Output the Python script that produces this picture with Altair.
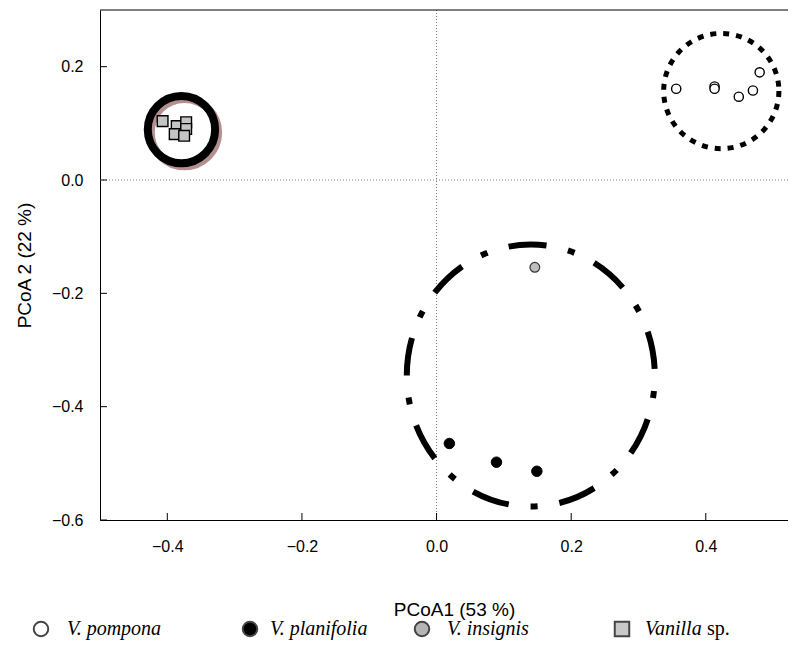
import altair as alt
import pandas as pd

# ---------------- data ----------------
pompona_x = [0.356, 0.413, 0.413, 0.449, 0.470, 0.480]
pompona_y = [0.161, 0.165, 0.161, 0.147, 0.158, 0.190]
planifolia_x = [0.019, 0.089, 0.149]
planifolia_y = [-0.465, -0.498, -0.514]
insignis_x = [0.146]
insignis_y = [-0.154]
vsp_x = [-0.407, -0.386, -0.372, -0.372, -0.389, -0.375]
vsp_y = [0.104, 0.095, 0.102, 0.090, 0.081, 0.078]

# group ellipses (centres)
ring_names = ["Vanilla sp.", "V. pompona", "V. planifolia + V. insignis"]
ring_x = [-0.379, 0.423, 0.140]
ring_y = [0.089, 0.157, -0.345]

x_ticks = [-0.4, -0.2, 0.0, 0.2, 0.4]
y_ticks = [-0.6, -0.4, -0.2, 0.0, 0.2]

legend_labels = ["V. pompona", "V. planifolia", "V. insignis", "Vanilla"]
legend_suffix = "sp."
legend_shapes = ["circle", "circle", "circle", "square"]
legend_fills = ["white", "black", "#b5b5b5", "#c8c8c8"]

# ---------------- layout ----------------
W, H = 688, 510
XDOM = [-0.5, 0.5221]
YDOM = [-0.6, 0.3]
xs = alt.Scale(domain=XDOM, nice=False, zero=False)
ys = alt.Scale(domain=YDOM, nice=False, zero=False)

def pts(xv, yv):
    return pd.DataFrame({"x": xv, "y": yv})

x_axis = alt.Axis(
    title="PCoA1 (53 %)", values=x_ticks, format=".1f", ticks=False,
    labelPadding=18, titlePadding=46, titleX=354, grid=False, domainColor="black",
    labelFontSize=16, titleFontSize=19, labelFont="Liberation Sans",
    titleFont="Liberation Sans", titleFontWeight="normal", labelColor="black",
    titleColor="black")
y_axis = alt.Axis(
    title="PCoA 2 (22 %)", values=y_ticks, format=".1f", ticks=False,
    labelPadding=17, titlePadding=17, grid=False, domainColor="black",
    labelFontSize=16, titleFontSize=19, labelFont="Liberation Sans",
    titleFont="Liberation Sans", titleFontWeight="normal", labelColor="black",
    titleColor="black")
X = alt.X("x:Q", scale=xs, axis=x_axis)
Y = alt.Y("y:Q", scale=ys, axis=y_axis)

# zero reference lines
zero_v = alt.Chart(pd.DataFrame({"x": [0.0]})).mark_rule(
    color="#777777", strokeWidth=1, strokeDash=[1, 2]).encode(x=X)
zero_h = alt.Chart(pd.DataFrame({"y": [0.0]})).mark_rule(
    color="#777777", strokeWidth=1, strokeDash=[1, 2]).encode(y=Y)

# top frame line
top_line = alt.Chart(pd.DataFrame({"a": [0]})).mark_rule(
    color="black", strokeWidth=1).encode(
    x=alt.value(0), x2=alt.value(W), y=alt.value(0))

# inward ticks
xt = alt.Chart(pd.DataFrame({"x": x_ticks})).mark_rule(
    color="black", strokeWidth=1).encode(
    x=X, y=alt.value(H), y2=alt.value(H - 7))
yt = alt.Chart(pd.DataFrame({"y": y_ticks})).mark_rule(
    color="black", strokeWidth=1).encode(
    y=Y, x=alt.value(0), x2=alt.value(7))

# group rings
ring_sp = pts([ring_x[0]], [ring_y[0]])
ring_pom = pts([ring_x[1]], [ring_y[1]])
ring_pla = pts([ring_x[2]], [ring_y[2]])

shadow = alt.Chart(ring_sp).mark_point(
    shape="circle", size=4536, filled=False, stroke="#b38f8f",
    strokeWidth=8, opacity=1).encode(
    x=X, y=Y, xOffset=alt.value(3), yOffset=alt.value(3))
ring1 = alt.Chart(ring_sp).mark_point(
    shape="circle", size=4536, filled=False, stroke="black",
    strokeWidth=8, opacity=1).encode(x=X, y=Y)
ring2 = alt.Chart(ring_pom).mark_point(
    shape="circle", size=13273, filled=False, stroke="black",
    strokeWidth=5, strokeDash=[6, 7], strokeCap="butt", opacity=1).encode(x=X, y=Y)
ellipse_path = "M -0.9466 0 A 0.9466 1 0 1 1 0.9466 0 A 0.9466 1 0 1 1 -0.9466 0 Z"
ring3 = alt.Chart(ring_pla).mark_point(
    shape=ellipse_path, size=68644, filled=False, stroke="black",
    strokeWidth=6, strokeDash=[38, 22, 7, 22], strokeCap="butt", opacity=1).encode(x=X, y=Y)

# samples
p_pom = alt.Chart(pts(pompona_x, pompona_y)).mark_point(
    shape="circle", size=85, filled=True, fill="white", stroke="black",
    strokeWidth=1.4, opacity=1).encode(x=X, y=Y)
p_pla = alt.Chart(pts(planifolia_x, planifolia_y)).mark_point(
    shape="circle", size=110, filled=True, fill="black", stroke="black",
    strokeWidth=1, opacity=1).encode(x=X, y=Y)
p_ins = alt.Chart(pts(insignis_x, insignis_y)).mark_point(
    shape="circle", size=95, filled=True, fill="#bdbdbd", stroke="#333333",
    strokeWidth=1.2, opacity=1).encode(x=X, y=Y)
p_sp = alt.Chart(pts(vsp_x, vsp_y)).mark_point(
    shape="square", size=115, filled=True, fill="#c4c4c4", stroke="black",
    strokeWidth=1.4, opacity=1).encode(x=X, y=Y)

# ---------------- manual legend ----------------
leg_sym_px = [-59, 150, 322, 522]
leg_txt_px = [-33, 170, 347, 545]
leg_y = 619
leg = pd.DataFrame({
    "label": legend_labels, "shape": legend_shapes, "fill": legend_fills,
    "sx": leg_sym_px, "tx": leg_txt_px,
})
leg_sym = alt.Chart(leg).mark_point(
    filled=True, size=210, stroke="#444444", strokeWidth=2, opacity=1).encode(
    x=alt.X("sx:Q", scale=None), y=alt.value(leg_y),
    shape=alt.Shape("shape:N", scale=None),
    fill=alt.Fill("fill:N", scale=None))
leg_txt = alt.Chart(leg).mark_text(
    align="left", baseline="middle", font="Liberation Serif", fontStyle="italic",
    fontSize=20, color="black").encode(
    x=alt.X("tx:Q", scale=None), y=alt.value(leg_y), text="label:N")
leg_sp = alt.Chart(pd.DataFrame({"t": [legend_suffix]})).mark_text(
    align="left", baseline="middle", font="Liberation Serif",
    fontSize=20, color="black").encode(
    x=alt.value(607), y=alt.value(leg_y), text="t:N")

chart = alt.layer(
    zero_v, zero_h, top_line, xt, yt,
    shadow, ring1, ring2, ring3,
    p_sp, p_pom, p_pla, p_ins,
    leg_sym, leg_txt, leg_sp,
).properties(
    width=W, height=H,
    autosize=alt.AutoSizeParams(type="none"),
    padding={"left": 92, "top": 2, "right": 0, "bottom": 120},
).configure_view(stroke=None).configure_axis(domainWidth=1)

chart.save("out.html", embed_options={"renderer": "svg", "actions": False})
